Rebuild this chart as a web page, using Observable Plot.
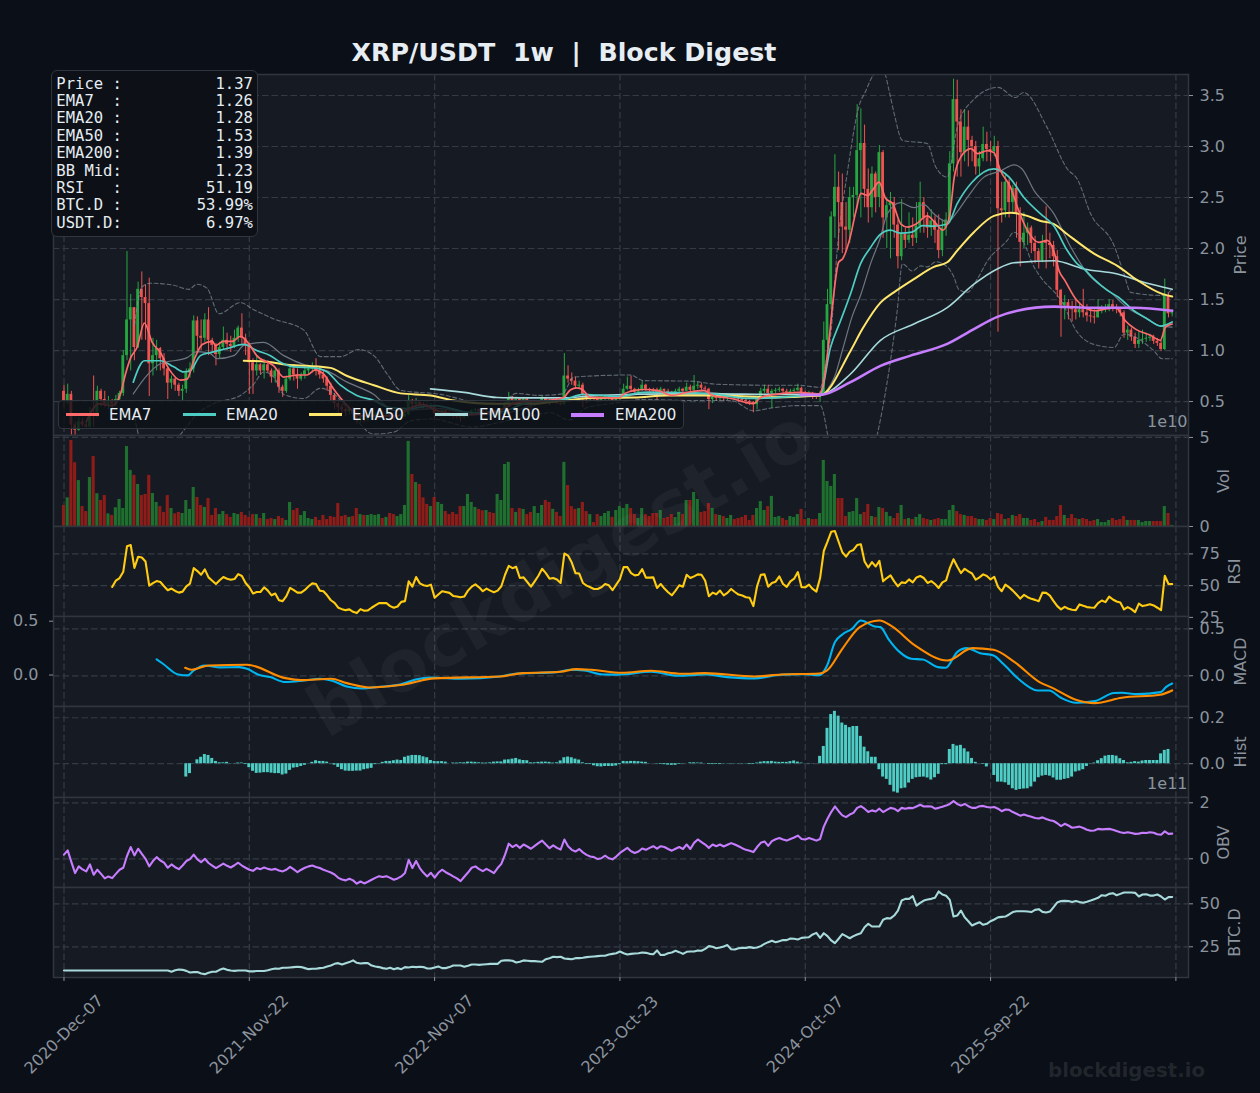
<!DOCTYPE html>
<html><head><meta charset="utf-8">
<script src="https://cdn.jsdelivr.net/npm/d3@7"></script>
<script src="https://cdn.jsdelivr.net/npm/@observablehq/plot@0.6"></script>
<style>
html,body{margin:0;padding:0;background:#0b0f17;}
#root{position:relative;width:1260px;height:1093px;overflow:hidden;background:#0b0f17;font-family:"DejaVu Sans",sans-serif;}
#root>div.p{position:absolute;left:0;}
#root svg{overflow:visible;display:block;}
#title{position:absolute;left:0;width:1128px;top:37px;text-align:center;font-weight:bold;font-size:25.3px;line-height:32px;color:#e6edf3;white-space:pre;}
#info{position:absolute;left:51px;top:69.5px;width:205px;height:165px;background:#0d1117;border:1.5px solid #30363d;border-radius:6px;box-sizing:content-box;font-family:"DejaVu Sans Mono",monospace;font-size:15.55px;line-height:17.4px;color:#e6edf3;white-space:pre;padding:0;}
#info div{position:absolute;left:4.3px;}
#legend{position:absolute;left:58px;top:400px;width:624px;height:27px;background:rgba(13,17,23,.8);border:1.5px solid #30363d;border-radius:4px;font-size:15px;color:#e6edf3;}
#legend span{position:absolute;top:4px;line-height:20px;}
#legend i{position:absolute;top:12px;height:3px;width:33px;display:block;}
#wm{position:absolute;left:560px;top:572px;transform:translate(-50%,-50%) rotate(-30.6deg);font-weight:bold;font-size:72px;color:rgba(255,255,255,.04);white-space:pre;pointer-events:none;}
#wm2{position:absolute;left:1048px;top:1059px;font-weight:bold;font-size:19.8px;line-height:24px;color:rgba(255,255,255,.1);white-space:pre;}
</style></head><body>
<div id="root"></div>
<script>
const tickLabels=["2020-Dec-07","2021-Nov-22","2022-Nov-07","2023-Oct-23","2024-Oct-07","2025-Sep-22"];
const infoRows=["Price :          1.37","EMA7  :          1.26","EMA20 :          1.28","EMA50 :          1.53","EMA200:          1.39","BB Mid:          1.23","RSI   :         51.19","BTC.D :        53.99%","USDT.D:         6.97%"];
const firstOpen=.60;
const closes=[
.50,.57,.27,.22,.30,.27,.25,.38,.36,.60,
.52,.47,.50,.47,.52,.58,.95,1.30,1.42,1.03,
1.60,1.52,1.46,.87,.95,1.02,.92,.82,.68,.72,
.66,.60,.62,.78,.82,1.29,1.14,1.12,1.30,1.10,
1.05,.96,1.03,1.10,1.06,1.04,1.12,1.22,1.12,1.05,
.88,.80,.86,.80,.86,.80,.74,.80,.64,.60,
.72,.82,.76,.72,.76,.80,.82,.84,.80,.76,
.72,.65,.56,.48,.44,.42,.40,.42,.38,.32,
.34,.32,.34,.36,.37,.38,.37,.38,.35,.33,
.34,.35,.37,.50,.47,.49,.47,.46,.45,.46,
.38,.39,.41,.39,.38,.36,.35,.34,.35,.38,
.41,.42,.40,.38,.39,.38,.37,.38,.42,.47,
.53,.51,.52,.50,.52,.49,.47,.48,.50,.53,
.51,.49,.50,.48,.47,.75,.72,.70,.65,.66,
.57,.52,.53,.52,.51,.52,.53,.54,.51,.52,
.54,.62,.65,.62,.59,.61,.66,.62,.61,.60,
.59,.62,.60,.59,.58,.60,.62,.60,.64,.61,
.65,.66,.63,.62,.52,.54,.53,.54,.53,.54,
.55,.53,.52,.51,.50,.49,.47,.52,.60,.62,
.58,.60,.61,.62,.60,.59,.60,.61,.63,.58,
.57,.58,.56,.54,.57,1.10,1.45,2.31,2.60,2.45,
2.21,2.18,2.50,2.52,2.96,3.03,2.58,2.40,2.73,2.50,
2.94,2.30,2.42,2.45,2.23,1.92,2.14,2.08,2.13,2.10,
2.22,2.45,2.30,2.20,2.27,2.18,1.98,2.20,2.28,2.83,
3.46,3.24,2.94,3.19,3.06,3.00,2.80,2.88,3.02,2.97,
2.95,3.00,2.39,2.37,2.65,2.45,2.59,2.34,2.06,2.15,
2.20,2.05,1.97,1.88,2.07,2.05,2.03,1.92,1.59,1.44,
1.47,1.42,1.40,1.37,1.40,1.37,1.34,1.33,1.32,1.39,
1.40,1.41,1.45,1.41,1.40,1.37,1.17,1.20,1.13,1.06,
1.10,1.11,1.12,1.13,1.09,1.07,1.01,1.54,1.36,1.37];
const highs=[
.66,.67,.60,.30,.34,.33,.30,.44,.75,.65,
.62,.60,.55,.52,.56,.60,1.00,1.97,1.55,1.42,
1.67,1.77,1.64,1.71,1.12,1.10,1.03,.97,.84,.75,
.73,.68,.66,.82,.88,1.34,1.33,1.30,1.36,1.42,
1.12,1.07,1.08,1.23,1.17,1.14,1.20,1.24,1.36,1.16,
1.07,.92,.95,.87,.91,.90,.82,.82,.82,.66,
.75,.85,.86,.82,.78,.84,.85,.88,.92,.84,
.80,.74,.68,.58,.50,.47,.44,.44,.44,.40,
.38,.37,.36,.38,.39,.40,.40,.39,.39,.36,
.36,.37,.39,.56,.52,.53,.50,.49,.48,.48,
.47,.41,.42,.41,.40,.39,.37,.35,.36,.40,
.42,.43,.43,.41,.41,.40,.39,.40,.43,.49,
.59,.55,.54,.53,.54,.53,.50,.50,.51,.55,
.54,.52,.52,.50,.50,.97,.85,.78,.74,.70,
.68,.58,.55,.54,.53,.53,.55,.55,.55,.53,
.56,.67,.74,.75,.63,.63,.70,.67,.63,.63,
.63,.64,.62,.62,.60,.62,.64,.63,.68,.66,
.755,.69,.68,.65,.63,.57,.56,.56,.55,.56,
.57,.56,.54,.53,.52,.51,.50,.55,.63,.66,
.66,.62,.63,.64,.63,.62,.62,.63,.67,.64,
.60,.60,.59,.57,.60,1.28,1.60,2.36,2.92,2.75,
2.73,2.45,2.60,2.60,3.41,3.37,3.21,2.78,2.80,2.75,
3.01,2.96,2.50,2.55,2.50,2.28,2.48,2.20,2.35,2.30,
2.45,2.65,2.50,2.35,2.38,2.32,2.33,2.28,2.35,2.95,
3.66,3.65,3.36,3.36,3.35,3.10,3.05,2.95,3.19,3.14,
3.05,3.10,3.05,2.65,2.72,2.68,2.62,2.65,2.40,2.35,
2.25,2.22,2.12,2.00,2.13,2.41,2.15,2.07,1.98,1.60,
1.54,1.50,1.48,1.50,1.46,1.60,1.45,1.42,1.40,1.50,
1.44,1.45,1.50,1.49,1.45,1.42,1.39,1.24,1.22,1.17,
1.18,1.20,1.17,1.16,1.15,1.12,1.10,1.70,1.56,1.40];
const lows=[
.44,.47,.17,.17,.21,.25,.24,.24,.25,.34,
.45,.44,.42,.42,.45,.50,.55,.90,.80,.90,
1.02,1.10,1.10,.55,.75,.80,.80,.75,.52,.62,
.60,.55,.50,.58,.73,.78,1.00,1.00,1.08,.95,
.98,.85,.92,1.00,1.00,.98,1.02,1.08,1.05,.95,
.57,.57,.75,.76,.72,.78,.68,.68,.58,.54,
.58,.70,.70,.62,.70,.72,.76,.78,.75,.72,
.68,.60,.50,.42,.38,.38,.35,.37,.34,.28,
.29,.29,.30,.33,.34,.35,.35,.35,.33,.31,
.32,.32,.34,.36,.40,.44,.43,.42,.42,.43,
.32,.36,.37,.37,.35,.33,.33,.30,.33,.34,
.37,.39,.38,.36,.36,.36,.36,.36,.37,.41,
.46,.47,.49,.48,.49,.46,.41,.45,.46,.49,
.48,.46,.48,.47,.46,.46,.68,.66,.62,.62,
.44,.48,.50,.50,.49,.49,.50,.51,.49,.49,
.50,.53,.61,.59,.57,.58,.60,.60,.59,.58,
.50,.58,.56,.56,.55,.56,.58,.57,.60,.58,
.60,.62,.60,.60,.42,.48,.50,.50,.50,.51,
.52,.51,.49,.49,.47,.46,.39,.42,.52,.58,
.55,.43,.58,.59,.58,.56,.57,.59,.60,.56,
.54,.56,.52,.52,.49,.56,1.02,1.40,2.10,1.98,
1.95,1.96,2.05,2.30,2.40,2.30,2.40,2.25,2.30,2.35,
2.40,2.10,2.00,1.90,2.10,1.80,1.88,2.00,2.05,2.02,
2.05,2.15,2.15,2.10,2.12,2.05,1.90,1.92,2.12,2.25,
2.75,2.70,2.70,2.85,2.80,2.85,2.72,2.72,2.85,2.85,
2.85,2.90,1.18,2.25,2.30,2.30,2.35,2.10,1.82,2.00,
2.03,1.95,1.85,1.80,1.86,1.80,1.90,1.82,1.52,1.13,
1.30,1.30,1.28,1.30,1.32,1.32,1.28,1.27,1.26,1.32,
1.36,1.37,1.38,1.38,1.36,1.33,1.12,1.10,1.09,1.02,
1.02,1.06,1.08,1.09,1.06,1.04,.99,1.00,1.32,1.33];
const volumes=[
1.18,1.61,4.83,3.58,2.58,1.12,.84,2.75,3.93,1.84,
1.46,1.74,.71,.62,1.05,1.52,1.01,4.49,3.15,2.87,
2.36,1.74,1.80,2.87,1.85,1.35,1.12,.79,1.74,1.01,
.71,.79,.73,1.46,.96,2.19,1.63,1.18,1.07,1.57,
.62,1.01,.67,.84,.67,.51,.73,.67,.79,.62,
.51,.67,.67,.45,.73,.39,.45,.39,.56,.45,
.34,1.35,.90,1.01,.62,.84,.45,.39,.51,.34,
.62,.39,.56,.51,1.29,.56,.62,.51,.56,1.01,
.67,.62,.62,.67,.62,.67,.45,.51,.73,.67,
.56,.67,1.18,4.78,2.92,2.47,2.36,1.61,1.24,1.12,
1.63,1.35,1.24,.84,.67,.79,.67,1.12,1.12,1.80,
1.35,1.07,.96,.88,.90,.79,.73,1.80,1.46,3.48,
3.60,1.01,.79,1.01,.96,.67,.79,1.12,.73,1.18,
1.46,1.35,.96,.79,.56,3.60,2.30,1.12,.96,1.01,
1.35,.84,.67,.22,.67,.56,.73,.84,.51,.90,
1.12,1.01,1.24,1.01,.67,.45,1.01,.67,.56,.73,
.73,.90,.45,.51,.67,.51,.79,.67,1.46,1.46,
1.91,1.52,.79,.84,1.29,1.01,.67,.62,.56,.45,
.62,.39,.45,.51,.62,.34,.62,1.01,1.40,.90,
1.12,1.69,.51,.56,.45,.34,.56,.51,.67,.96,
.39,.45,.39,.39,.73,3.71,2.53,2.25,2.92,1.57,
1.57,.56,.79,.84,1.57,.67,.79,1.24,.56,.51,
1.07,1.01,.79,.56,.45,.73,1.18,.39,.45,.39,
.51,.67,.45,.39,.34,.39,.45,.39,.39,.90,
1.18,.84,.67,.62,.56,.56,.45,.39,.39,.34,
.45,.39,.73,.67,.39,.45,.62,.56,.67,.45,
.45,.34,.39,.22,.28,.51,.34,.34,.56,1.18,
.62,.45,.67,.45,.39,.45,.39,.28,.34,.39,
.22,.22,.34,.45,.34,.39,.56,.34,.34,.34,
.34,.22,.28,.28,.28,.28,.28,1.12,.73,.06];
const rsiStart=13;
const rsi=[
49,54,56,61,81,82,64,72.7,72.2,69,50,52,53.6,52.9,49.5,46.4,47.7,45.8,44.5,45.3,
49.5,51.6,63.8,61.5,58.6,62.8,56.5,53.9,51.3,54.2,56.8,55.5,54.7,55.2,59.1,57.6,52.1,48.7,43.8,45,
45,48.7,46.1,42.4,43.8,38.5,37.8,41.7,48.2,46.4,44.5,44.5,46.6,49.5,51.8,51.3,46.1,45.6,42.4,38.5,
36.5,32.6,31.5,30.7,31.3,29.4,28.4,31.5,30.2,30.5,32.6,34.4,36.2,36.2,36.2,33.9,32.6,33.6,37.2,37.8,
53.4,49.2,56.8,51.8,50.3,49.7,50.8,40.4,43,45.6,45,44.3,41.9,41.4,40.9,41.4,46.1,49.2,51,48.7,
45.6,47.7,46.1,44.8,46.1,49.5,58.6,65.6,63.8,64.8,56,56.5,52.9,49.2,53.4,57.8,63.3,59.9,55.5,56,
54.9,52.1,75.3,73.7,68.2,59.9,59.6,52.1,50,48.7,47.4,47.4,48.7,51.3,50.3,46.4,50.8,55.2,64.6,64.6,
59.9,58.1,58.6,63,56.3,56.3,56.5,48.2,51.3,47.7,44.8,42.4,46.1,50.3,49.2,58.6,56,57.3,58.9,58.6,
53.9,41.7,44.5,43.2,46.1,42.4,44.3,47.4,45,43,42.2,40.9,40.4,33.9,49.5,58.6,58.9,49.2,52.1,53.1,
57.3,51.3,49,53.4,55.5,60.7,48.7,48.7,50.8,47.4,45.3,56,77.3,84.6,92.4,93,84.6,76.3,72.9,76.8,
78.1,82,82.6,69,64.3,68.5,65.1,69.5,53.4,56,58.1,53.4,49.5,52.6,52.1,54.9,52.6,56.5,57.6,56,
52.1,53.6,51.3,48.2,52.6,54.2,63.8,70.8,65.1,59.9,63.3,61.2,59.6,54.7,56.5,58.9,57.6,54.9,57,49,
45.6,50.8,48.7,46.1,43,39.8,42.7,40.9,39.6,38.8,37.8,44.5,44.3,42.2,37.8,33.9,31.3,33.3,31.8,31,
30.7,35.2,34.1,33.1,32.8,32.6,36.2,38.3,37,41.4,39.1,37.5,36.7,31.3,33.1,31.5,29.2,35.9,33.9,34.6,
35.4,34.4,32.6,30.7,57.8,51.3,51.2];
const macd=[[25,.174],[26.7,.128],[30.8,.014],[33.4,.004],[35,.057],[38,.11],[42.2,.089],[47.3,.092],[49.4,.074],[52.5,.011],[55.6,-.014],[59.7,-.067],[64.9,-.05],[69,-.032],[72.1,-.05],[76.3,-.113],[80.4,-.135],[84.5,-.12],[90.7,-.092],[94.9,-.039],[99,-.018],[107.2,-.032],[117.6,-.007],[121.7,.021],[133,.039],[136.7,.064],[140.3,.057],[145.5,.014],[149.6,.012],[158.4,.043],[165.6,0],[172.9,.014],[179,-.014],[186.3,-.028],[193.5,.011],[199.7,.018],[203.8,.007],[205.9,.11],[208,.358],[210,.44],[212.6,.5],[215,.589],[218.8,.525],[220.3,.518],[222.4,.394],[225.5,.252],[228.6,.181],[231.7,.174],[235.8,.092],[237.9,.085],[241,.252],[243.6,.294],[247.2,.241],[250.8,.216],[253.4,.128],[257.5,-.032],[262.7,-.156],[265.8,-.156],[269,-.234],[273,-.287],[278.1,-.27],[283.3,-.184],[285.4,-.181],[289.5,-.195],[295.9,-.174],[297.3,-.121],[299,-.082]];
const signal=[[32.7,.085],[34.4,.064],[39.1,.11],[49.4,.117],[59.7,-.025],[63.9,-.046],[72.1,-.032],[76.3,-.078],[82.5,-.124],[90.7,-.099],[100,-.028],[117.6,-.007],[123.8,.028],[134,.043],[138.2,.071],[142.3,.064],[150.6,.032],[158.4,.053],[166.7,.021],[172.9,.028],[186.3,-.007],[193.5,.014],[203.8,.025],[205.9,.057],[210,.287],[214.7,.518],[220,.589],[223.4,.525],[229.6,.323],[238.4,.163],[245.1,.294],[250.8,.277],[256.5,.145],[263.2,-.067],[266.8,-.131],[273,-.255],[278.1,-.291],[285.4,-.234],[295.7,-.202],[299,-.156]];
const histStart=33;
const hist=[
-.058,-.043,-.001,.017,.028,.04,.036,.023,.01,.004,.004,.006,-.001,.001,.003,.003,-.003,
-.017,-.033,-.042,-.041,-.039,-.039,-.041,-.043,-.043,-.049,-.045,-.029,-.019,-.017,-.012,-.007,-.001,
.006,.013,.01,.01,.007,.001,-.006,-.016,-.026,-.032,-.033,-.033,-.032,-.032,-.026,-.023,-.02,-.004,-.001,
.006,.01,.01,.013,.016,.014,.028,.033,.036,.036,.035,.03,.026,.014,.01,.009,.009,.007,0,.003,.003,.004,.004,
.007,.007,.006,.004,.003,.003,.004,.007,.008,.008,.016,.017,.02,.023,.017,.014,.013,.004,.004,.006,.007,.007,.006,.003,.004,
.012,.026,.029,.026,.02,.016,.004,-.003,-.003,-.009,-.013,-.014,-.012,-.012,-.012,-.01,-.004,.01,.009,.01,.01,.009,.007,.006,.001,0,
-.001,-.003,-.004,-.006,-.007,-.007,-.003,-.001,0,.004,.004,.003,.003,0,-.003,-.003,-.003,-.003,-.001,-.001,-.001,-.001,-.001,-.001,-.001,-.003,-.003,
.003,.007,.009,.009,.01,.007,.006,.006,.006,.009,.012,.007,.003,0,.001,.001,0,.032,.075,.154,.214,.228,.207,.177,.167,.157,.162,.162,.119,.072,.052,.028,.028,
-.026,-.058,-.068,-.094,-.123,-.128,-.109,-.106,-.084,-.068,-.061,-.059,-.058,-.062,-.071,-.061,-.046,-.004,-.004,.062,.084,.077,.08,.065,.051,.023,.006,0,-.003,-.014,0,
-.051,-.08,-.08,-.083,-.094,-.109,-.116,-.112,-.11,-.109,-.101,-.08,-.061,-.054,-.051,-.054,-.062,-.072,-.072,-.068,-.065,-.058,-.036,-.032,-.026,-.012,-.001,.003,
.013,.022,.033,.036,.036,.033,.022,.014,.004,.006,.009,.007,.012,.014,.014,.014,.014,.043,.058,.062];
const obv=[
.15,.30,-.12,-.51,-.27,-.38,-.45,-.20,-.57,-.39,-.54,-.70,-.63,-.69,-.54,-.39,-.32,.10,.42,.12,
.36,.18,0,-.27,-.08,.06,-.06,-.14,-.32,-.20,-.30,-.37,-.24,-.08,-.01,.15,-.02,-.12,0,-.15,
-.24,-.33,-.25,-.17,-.25,-.31,-.23,-.14,-.24,-.32,-.39,-.43,-.33,-.37,-.31,-.36,-.39,-.36,-.42,-.45,
-.39,-.29,-.38,-.48,-.39,-.32,-.27,-.24,-.29,-.33,-.39,-.44,-.49,-.56,-.68,-.74,-.77,-.71,-.77,-.89,
-.81,-.88,-.82,-.75,-.68,-.62,-.65,-.62,-.68,-.75,-.70,-.63,-.51,-.04,-.33,-.08,-.33,-.50,-.63,-.50,
-.67,-.50,-.39,-.48,-.55,-.63,-.70,-.80,-.64,-.49,-.32,-.27,-.37,-.44,-.36,-.43,-.51,-.33,-.18,.15,
.54,.42,.50,.39,.51,.44,.36,.46,.56,.65,.51,.38,.48,.39,.33,.69,.45,.32,.26,.35,
.23,.14,.08,.06,-.01,.02,.11,.02,-.02,.08,.21,.30,.39,.27,.21,.26,.37,.32,.39,.45,
.36,.45,.42,.35,.29,.36,.42,.35,.51,.35,.57,.69,.60,.51,.39,.51,.45,.51,.44,.50,
.56,.51,.45,.38,.32,.29,.24,.42,.57,.62,.46,.63,.70,.74,.69,.65,.71,.76,.83,.71,
.69,.74,.70,.65,.71,1.15,1.43,1.67,1.87,1.70,1.55,1.49,1.58,1.64,1.82,1.88,1.79,1.67,1.73,1.69,
1.79,1.67,1.75,1.82,1.79,1.70,1.82,1.79,1.82,1.81,1.87,1.93,1.87,1.88,1.87,1.79,1.82,1.86,1.90,1.96,
2.06,1.96,1.90,1.96,1.88,1.82,1.82,1.88,1.89,1.85,1.83,1.85,1.79,1.70,1.76,1.75,1.67,1.61,1.54,1.58,
1.54,1.50,1.46,1.44,1.48,1.42,1.38,1.35,1.27,1.17,1.25,1.19,1.11,1.13,1.15,1.10,1.04,1.00,1.01,1.07,
1.05,1.06,1.07,1.04,.99,.95,.92,.95,.92,.89,.90,.93,.92,.95,.93,.88,.86,.98,.89,.90];
const btcd=[
11.2,11.2,11.2,11.2,11.2,11.2,11.2,11.2,11.2,11.2,11.2,11.2,11.2,11.2,11.2,11.2,11.2,11.2,11.2,11.2,
11.2,11.2,11.2,11.2,11.2,11.2,11.2,11.2,11.2,10.5,11.4,11.8,11.6,11,10.1,10.3,10.3,9.5,9.1,9.9,
10.5,10.5,11.6,12.4,11.6,11.2,11,11.2,11.2,11.2,10.7,10.7,10.9,10.9,10.9,11.4,12,12.4,12.2,12.8,
12.8,13,13.2,13.4,13.2,12.6,12,12.2,12.2,12.6,12.8,13.6,14.1,15.1,15.5,14.7,15.5,16.1,17.1,15.7,
15.3,15.5,15.5,14.1,13.6,13.2,12.6,12.2,12.8,12,12.6,12,13.2,13,13.4,13.2,13.4,13.2,12.4,12.4,
13,13.6,12.6,12.6,13.2,14.1,14.1,14.1,13.4,14,14.7,14.7,14.5,14.7,14.9,15.1,15.1,15.1,16.9,17.1,
17.1,16.9,15.9,16.3,17.1,16.9,16.7,16.7,16.5,16.3,17.8,18.4,19.2,19,19.2,18.2,18,17.8,18.4,18.4,
18.6,19,19.2,19.4,19.6,19.8,19.8,20.5,20.9,21.3,22.3,21.3,20.5,20.9,21.1,21.3,21.7,21.5,20.9,20.7,
22.9,20.2,20.3,21.3,21.7,22.7,21.9,20.9,22.1,22.3,22.3,22.9,22.7,23.8,25.4,25,24.2,24.6,25.2,26,
23.6,23.4,24.2,24.4,24.4,24.8,24.4,24.6,25.4,26.7,27.7,28.5,27.7,28.3,28.9,28.9,29.8,29.7,29.3,30.2,
30.4,30.6,32.2,33.1,30.2,32.9,31.2,28.7,27.1,29.7,32.4,31.2,30,31.2,32.2,32.9,36.4,38.4,36.8,36.8,
36.8,40.7,41.7,41.5,43.2,46.1,51.9,52.9,52.9,54.5,49,50.6,51.9,52.5,52.9,53.5,57.2,55.4,54.7,52.3,
42.6,43.2,46.1,42.2,39.9,37.4,38.4,39.3,37.8,38.4,39.9,40.9,42.1,42.4,42.6,43.8,45.2,45.7,45.7,45.7,
45.5,45.2,46.5,46.9,45.3,45,45.5,48.1,50.8,51.6,51.7,51.6,51,51.6,51,50.6,51.2,51.9,52.7,53.5,
55,54.7,55.8,56.2,55,55.8,56.6,56.6,56.6,56.4,54.3,55.4,55.6,54.8,54.8,55.4,54.3,52.5,53.9,54];
const ema7=[[6,.30],[9.4,.477],[13,.46],[15.2,.57],[16.6,.77],[18,.93],[19.7,1.03],[21.7,1.27],[23.8,1.08],[26,.98],[28.3,.82],[31.4,.71],[33.2,.72],[35,.90],[37.3,1.06],[40,1.09],[40.9,1.05],[43,1.09],[45.4,1.09],[47.6,1.14],[49.9,1.065],[52,.95],[56.6,.85],[59.3,.74],[63,.76],[65.6,.76],[67.8,.81],[70,.77],[72.8,.62],[75.9,.48],[80,.36],[90,.36],[93,.43],[97,.47],[100,.42],[108,.37],[118,.42],[122,.49],[130,.51],[134.8,.54],[136.6,.614],[138.4,.634],[140,.614],[142,.54],[150,.535],[150.6,.56],[152.8,.60],[156.4,.618],[160,.61],[164,.56],[168,.59],[172.6,.61],[175,.56],[180,.53],[186,.48],[188,.54],[193,.575],[198,.59],[203.7,.575],[205,.70],[206.4,1.10],[207.7,1.555],[209,1.865],[210.1,1.90],[211.9,2.08],[213.7,2.37],[215,2.54],[216.9,2.52],[218.1,2.57],[219.9,2.65],[221.7,2.49],[223.6,2.44],[225.8,2.24],[227.6,2.21],[229.9,2.24],[232.9,2.32],[234.9,2.26],[237.1,2.18],[238.9,2.31],[240.2,2.70],[242,2.90],[244.7,2.98],[246.5,2.93],[249.1,2.96],[250.9,2.94],[252.7,2.76],[255.4,2.60],[257.2,2.41],[259.9,2.18],[263,2.06],[265.3,2.08],[267,1.98],[268.5,1.78],[270,1.69],[273.1,1.50],[278,1.39],[281.6,1.41],[283.8,1.42],[286.4,1.29],[289.1,1.21],[293.1,1.15],[295.8,1.10],[297.2,1.23],[299,1.26]];
const ema20=[[18.7,.69],[21.7,.90],[26,.90],[29.6,.84],[32.3,.79],[34,.80],[36.8,.95],[39.5,.98],[44,1.02],[48.5,1.06],[52,1.00],[55.7,.95],[58.4,.885],[62,.84],[67.4,.83],[71,.79],[74.6,.66],[79,.56],[83.6,.51],[88,.44],[92.6,.43],[100,.46],[110,.39],[118,.40],[125,.49],[135,.52],[140,.57],[145,.56],[150,.55],[155,.585],[156.4,.59],[162,.59],[170,.585],[175,.575],[185,.53],[190,.535],[200,.56],[204,.57],[206.8,1.03],[209.5,1.29],[212.2,1.555],[214.9,1.85],[217.6,2.01],[220.3,2.14],[223,2.18],[225.7,2.15],[228.8,2.16],[231.6,2.225],[234.7,2.22],[238.4,2.24],[241,2.44],[245,2.65],[250.9,2.78],[255,2.70],[259,2.50],[263.5,2.34],[267,2.225],[270.7,1.98],[273.4,1.85],[275.2,1.80],[277.9,1.70],[281.5,1.59],[284.6,1.52],[288.7,1.39],[292.3,1.31],[295.9,1.24],[299,1.28]];
const ema50=[[48.5,.90],[54.8,.89],[60.2,.86],[65.6,.85],[71.9,.83],[76.4,.75],[83.6,.66],[90.8,.58],[98.9,.56],[104.3,.516],[116.9,.478],[126,.478],[135,.51],[144,.536],[153.8,.54],[162.8,.56],[176.4,.56],[189.8,.542],[204,.56],[212.2,.996],[215.4,1.21],[220.3,1.47],[223.9,1.57],[229.3,1.70],[234.7,1.82],[238.3,1.865],[241,1.98],[245.5,2.16],[250.9,2.32],[255.4,2.35],[259.9,2.32],[263.5,2.27],[267.1,2.24],[270.7,2.14],[277.9,1.95],[284.2,1.83],[289.6,1.69],[296.3,1.555],[299,1.53]];
const ema100=[[98.9,.624],[107.9,.59],[116.9,.54],[126,.536],[135,.536],[144,.56],[153.8,.57],[162.8,.575],[176.4,.575],[189.8,.57],[204,.57],[212.2,.77],[220.3,1.10],[229.3,1.26],[238.3,1.42],[245.5,1.65],[251.8,1.80],[256.3,1.86],[267.1,1.88],[275.2,1.80],[284.2,1.75],[291.3,1.67],[296.7,1.62],[299,1.60]];
const ema200=[[198.7,.565],[204.1,.565],[212.2,.69],[220.3,.85],[228.4,.95],[238.3,1.065],[245.5,1.21],[251.8,1.33],[257.2,1.39],[267.1,1.43],[277.9,1.42],[288.7,1.42],[299,1.39]];
const bbMid=[[18.7,.575],[22,.74],[26,.87],[33.2,.93],[35.9,.99],[39.5,.97],[41.3,.92],[45.8,.95],[48.5,1.05],[53.9,1.08],[59.3,.95],[65.6,.85],[71,.80],[76.4,.69],[83.6,.57],[89,.41],[101.6,.43],[110,.37],[118,.38],[130,.50],[140,.53],[150,.54],[158,.595],[165,.58],[172,.595],[180,.565],[190,.53],[200,.55],[204,.56],[206,.62],[208,.75],[210,1.0],[212.7,1.34],[215,1.55],[217.6,1.85],[220.3,2.11],[222.1,2.34],[225.7,2.45],[229.3,2.40],[232,2.43],[234.7,2.34],[238.3,2.26],[241,2.36],[243.7,2.50],[248.2,2.70],[252.7,2.76],[256.3,2.82],[258.5,2.78],[261.7,2.57],[267.1,2.34],[271.7,2.01],[276.3,1.75],[277.9,1.69],[282.4,1.57],[286.9,1.42],[291.3,1.33],[295.9,1.24],[299,1.23]];
const bbUpper=[[19,1.25],[21,1.62],[23.3,1.66],[29.6,1.64],[33.7,1.60],[35.9,1.65],[38.6,1.61],[41.8,1.36],[47.6,1.47],[51.2,1.40],[56.6,1.31],[64.7,1.20],[69.2,.94],[74.6,.94],[79.5,1.01],[83.6,.95],[87.2,.77],[90.8,.61],[101.6,.57],[110,.50],[118,.47],[122,.58],[128,.56],[134.4,.575],[137.6,.74],[152.8,.76],[156.4,.705],[169,.70],[176.1,.67],[189.8,.66],[197.7,.66],[204.1,.64],[205.5,.87],[207,1.2],[208.6,1.98],[211.3,2.73],[214.7,3.42],[216,3.52],[219.1,3.72],[221.3,3.72],[222.6,3.55],[224,3.32],[226.2,3.06],[232.9,3.03],[235.2,2.80],[238.3,2.70],[241,3.19],[244.6,3.43],[252,3.58],[256.7,3.48],[258.9,3.53],[265.2,3.19],[270.7,2.78],[273.4,2.68],[277,2.34],[283.3,2.03],[286,1.75],[287.8,1.57],[296.3,1.54],[299,1.60]];
const bbLower=[[19,.35],[21,.05],[23,-.1],[27,0],[31.4,.176],[36,.38],[40.4,.48],[47.6,.56],[51.2,.67],[53.9,.79],[56.6,.74],[59.3,.57],[64.7,.53],[69.2,.63],[71.9,.60],[76.4,.44],[83.6,.18],[89,.20],[93.5,.31],[99,.33],[110,.25],[118,.30],[125,.35],[131,.39],[136.4,.32],[141,.44],[150,.49],[156,.52],[169,.51],[180,.51],[186,.41],[191.5,.44],[198,.46],[204.1,.46],[206,.18],[208,-.3],[214,-.5],[219.4,.17],[222,.67],[224.8,1.39],[226.2,1.85],[228.9,1.78],[231.2,1.83],[233,1.82],[235.2,1.87],[238.3,1.82],[240.1,1.72],[241.4,1.60],[243.7,1.57],[246.4,1.70],[249,1.87],[254.5,2.08],[256.3,2.16],[258.5,2.09],[261.7,1.82],[263.5,1.72],[269,1.49],[273.4,1.18],[277.9,1.06],[283.3,1.03],[286,1.16],[294,1.0],[296.3,.92],[299,.92]];
const legendItems=[["EMA7","#ff6b6b",7,50,3],["EMA20","#4ecdc4",124,167,3],["EMA50","#ffe66d",250,293,3],["EMA100","#a8dadc",376,420,3],["EMA200","#c77dff",512,556,3.5]];

const GRID="#353b44",FRAME="#30363d",TXT="#8b949e",DASH="6.5,3";
const candles=closes.map((c,i)=>{const o=i?closes[i-1]:firstOpen;return{i,o,c,h:highs[i],l:lows[i],up:c>=o,v:volumes[i]};});
const xTicks=[0,50,100,150,200,250,300];
const labelled=tickLabels.map((t,k)=>({i:xTicks[k],t}));
const pts=(arr,start)=>arr.map((v,k)=>({i:k+start,v}));
const line=(arr,stroke,strokeWidth,extra={})=>Plot.line(arr,{x:d=>d[0],y:d=>d[1],stroke,strokeWidth,curve:"monotone-x",...extra});
const line2=(arr,start,stroke,strokeWidth)=>Plot.line(pts(arr,start),{x:"i",y:"v",stroke,strokeWidth});

function panel(top,bottom,domain,yTicks,label,marks,opts={}){
  const mb=opts.marginBottom||0;
  const div=document.createElement("div");div.className="p";div.style.top=top+"px";
  const fig=Plot.plot({
    width:1260,height:bottom-top+mb,marginLeft:53,marginRight:72,marginTop:0,marginBottom:mb,
    x:{domain:[-2.83,303.4],axis:null},y:{domain,axis:null},
    style:{background:"transparent",color:TXT,fontFamily:'"DejaVu Sans",sans-serif',fontSize:"16px",overflow:"visible"},
    marks:[
      Plot.frame({fill:"#161b23",stroke:null}),
      Plot.ruleY(yTicks,{stroke:GRID,strokeWidth:1.2,strokeDasharray:DASH}),
      Plot.ruleX(xTicks,{stroke:GRID,strokeWidth:1.2,strokeDasharray:DASH}),
      ...marks,
      Plot.frame({stroke:FRAME,strokeWidth:1.5}),
      Plot.axisY({anchor:"right",ticks:yTicks,tickSize:4,tickPadding:7,label,labelAnchor:"center",labelArrow:"none",labelOffset:opts.labelOffset||57,tickFormat:opts.fmt}),
      ...(opts.after||[])
    ]});
  div.appendChild(fig);root.appendChild(div);
}
const root=document.getElementById("root");

panel(74,435,[.167,3.706],[.5,1,1.5,2,2.5,3,3.5],"Price",[
  Plot.ruleX(candles,{x:"i",y1:"l",y2:"h",stroke:d=>d.up?"#26a641":"#ef5350",strokeWidth:1,clip:true}),
  Plot.rect(candles,{x1:d=>d.i-.38,x2:d=>d.i+.38,y1:"o",y2:"c",fill:d=>d.up?"#26a641":"#ef5350",clip:true}),
  line(bbUpper,"#8b949e",1.1,{strokeOpacity:.65,strokeDasharray:"4,2.5",clip:true}),
  line(bbLower,"#8b949e",1.1,{strokeOpacity:.65,strokeDasharray:"4,2.5",clip:true}),
  line(bbMid,"#6e7681",1.2,{clip:true}),
  line(ema100,"#a8dadc",1.6),
  line(ema50,"#ffe66d",2),
  line(ema20,"#4ecdc4",1.7),
  line(ema7,"#ff6b6b",1.7),
  line(ema200,"#c77dff",2.6)
],{fmt:d3.format(".1f")});

panel(435,526,[0,5.11],[0,5],"Vol",[
  Plot.rect(candles,{x1:d=>d.i-.42,x2:d=>d.i+.42,y1:0,y2:"v",fill:d=>d.up?"#1f6f2f":"#8e1c18"})
],{fmt:d3.format("d"),labelOffset:40,after:[Plot.text(["1e10"],{frameAnchor:"top-right",dy:-9,dx:-1,fill:TXT,fontSize:16,lineAnchor:"bottom"})]});

panel(526,616,[25.7,96.6],[25,50,75],"RSI",[line2(rsi,rsiStart,"#ffcc11",2.1)],{fmt:d3.format("d"),labelOffset:51});

panel(616,706,[-.327,.631],[0,.5],"MACD",[
  line(macd,"#00b4f0",2.1),line(signal,"#ff8c00",2.1)
],{fmt:d3.format(".1f"),after:[
  Plot.axisY({anchor:"left",ticks:[.581,.008],tickSize:4,tickPadding:11,label:null,tickFormat:(d,k)=>["0.5","0.0"][k]})
]});

panel(706,797,[-.147,.249],[0,.2],"Hist",[
  Plot.rect(pts(hist,histStart),{x1:d=>d.i-.4,x2:d=>d.i+.4,y1:0,y2:"v",fill:"#4ecdc4"})
],{fmt:d3.format(".1f")});

panel(797,887,[-1.025,2.19],[0,2],"OBV",[line2(obv,0,"#c77dff",2.1)],{fmt:d3.format("d"),labelOffset:40,after:[
  Plot.text(["1e11"],{frameAnchor:"top-right",dy:-9,dx:-1,fill:TXT,fontSize:16,lineAnchor:"bottom"})
]});

panel(887,977,[7.15,59.5],[25,50],"BTC.D",[line2(btcd,0,"#a8dadc",2.1)],{marginBottom:116,fmt:d3.format("d"),labelOffset:51,after:[
  Plot.axisX({anchor:"bottom",ticks:xTicks,tickSize:4,tickFormat:()=>"",label:null}),
  Plot.text(labelled,{x:"i",text:"t",frameAnchor:"bottom",rotate:-45,dy:57,textAnchor:"middle",lineAnchor:"middle",fill:TXT,fontSize:16})
]});

const add=(id,html)=>{const e=document.createElement("div");e.id=id;e.innerHTML=html;root.appendChild(e);return e;};
add("wm","blockdigest.io");
add("wm2","blockdigest.io");
add("title","XRP/USDT  1w  |  Block Digest");
const info=add("info","");
infoRows.forEach((r,k)=>{const d=document.createElement("div");d.textContent=r;d.style.top=(5+k*17.4)+"px";info.appendChild(d);});
const lg=add("legend","");
legendItems.forEach(([t,c,sx,tx,w])=>{
  const i=document.createElement("i");i.style.left=sx+"px";i.style.background=c;i.style.height=w+"px";lg.appendChild(i);
  const s=document.createElement("span");s.textContent=t;s.style.left=tx+"px";lg.appendChild(s);
});
</script>
</body></html>
